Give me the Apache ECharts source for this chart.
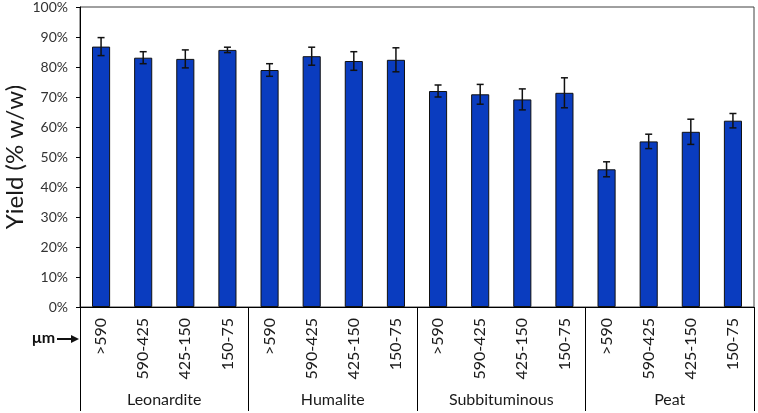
<!DOCTYPE html>
<html>
<head>
<meta charset="utf-8">
<script src="https://cdn.jsdelivr.net/npm/echarts@6/dist/echarts.min.js"></script>
<style>html,body{margin:0;padding:0;background:#fff}#c{width:758px;height:413px}</style>
</head>
<body>
<div id="c"></div>
<script>
const sizeClasses = ['>590', '590-425', '425-150', '150-75'];
const coalTypes = ['Leonardite', 'Humalite', 'Subbituminous', 'Peat'];
const yieldValues = [86.8, 83.1, 82.7, 85.7, 79.0, 83.6, 82.0, 82.4, 72.0, 70.9, 69.2, 71.4, 45.9, 55.2, 58.4, 62.1];
const yieldErrors = [3.0, 2.0, 3.0, 0.9, 2.1, 3.0, 3.1, 4.0, 2.0, 3.3, 3.5, 5.0, 2.5, 2.4, 4.2, 2.4];
const yTicks = [0, 100, 10];

const categories = [];
coalTypes.forEach(() => sizeClasses.forEach(s => categories.push(s)));
const errData = yieldValues.map((v, i) => [i, v - yieldErrors[i], v + yieldErrors[i]]);

const font = 'Lato';
const chart = echarts.init(document.getElementById('c'));
chart.setOption({
  animation: false,
  grid: { left: 80, right: 4, top: 7, bottom: 106, show: true, borderColor: '#404040', borderWidth: 1, outerBoundsMode: 'none', containLabel: false },
  xAxis: [{
    type: 'category',
    data: categories,
    axisLine: { lineStyle: { color: '#000', width: 1 } },
    axisTick: { show: false },
    axisLabel: { rotate: 90, interval: 0, margin: 11, fontFamily: font, fontSize: 16, color: '#1a1a1a' }
  }, {
    type: 'category',
    data: coalTypes,
    position: 'bottom',
    axisLine: { show: false },
    axisTick: { show: true, length: 104, lineStyle: { color: '#000', width: 1 } },
    axisLabel: { interval: 0, margin: 85, fontFamily: font, fontSize: 16, color: '#1a1a1a' }
  }],
  yAxis: {
    type: 'value',
    min: yTicks[0], max: yTicks[1], interval: yTicks[2],
    name: 'Yield (% w/w)',
    nameLocation: 'middle',
    nameGap: 53,
    nameMoveOverlap: false,
    nameTextStyle: { fontFamily: font, fontSize: 24, color: '#1a1a1a' },
    axisLine: { show: true, lineStyle: { color: '#000', width: 1 } },
    axisTick: { show: true, length: 4, lineStyle: { color: '#000' } },
    splitLine: { show: false },
    axisLabel: { formatter: '{value}%', fontFamily: font, fontSize: 14, color: '#333', margin: 12 }
  },
  series: [{
    type: 'bar',
    xAxisIndex: 0,
    data: yieldValues,
    barWidth: '43%',
    itemStyle: { color: '#0a3cbf', borderColor: '#111', borderWidth: 1 }
  }, {
    type: 'custom',
    xAxisIndex: 0,
    z: 5,
    data: errData,
    renderItem: function (params, api) {
      const x = api.value(0);
      const lo = api.coord([x, api.value(1)]);
      const hi = api.coord([x, api.value(2)]);
      const cap = 3.5;
      const st = { stroke: '#111', lineWidth: 1.5 };
      return {
        type: 'group',
        children: [
          { type: 'line', shape: { x1: hi[0], y1: hi[1], x2: lo[0], y2: lo[1] }, style: st },
          { type: 'line', shape: { x1: hi[0] - cap, y1: hi[1], x2: hi[0] + cap, y2: hi[1] }, style: st },
          { type: 'line', shape: { x1: lo[0] - cap, y1: lo[1], x2: lo[0] + cap, y2: lo[1] }, style: st }
        ]
      };
    }
  }],
  graphic: [
    { type: 'text', left: 32, top: 330, style: { text: 'μm', font: 'bold 16px Lato', fill: '#111' } },
    { type: 'line', shape: { x1: 57, y1: 339, x2: 74, y2: 339 }, style: { stroke: '#111', lineWidth: 2 } },
    { type: 'polygon', shape: { points: [[79, 339], [71, 335], [71, 343]] }, style: { fill: '#111' } }
  ]
});
</script>
</body>
</html>
